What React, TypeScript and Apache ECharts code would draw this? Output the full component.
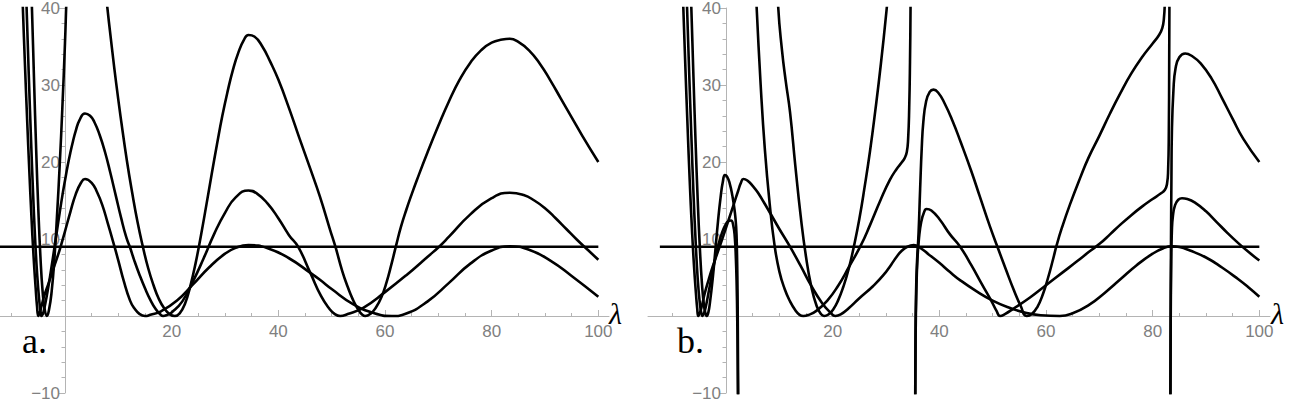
import { useEffect, useRef } from 'react';
import * as echarts from 'echarts';

type Pt = [number, number];

// ---------- tick / label values ----------
const xLabelValues = [20, 40, 60, 80, 100];
const xMinorTickValues = [-10, -5, 5, 10, 15, 25, 30, 35, 45, 50, 55, 65, 70, 75, 85, 90, 95];
const yMinValue = -10;
const yMaxValue = 40;
const yStep = 10;
const thresholdLevel: Pt[] = [[-12.4, 9], [100, 9]];

// ---------- panel a ----------
const aTall: Pt[] = [[-6.5,46],[-6.2,40],[-5.8,30.5],[-5.4,21.5],[-5.0,13.8],[-4.6,7.6],[-4.2,3.2],[-3.8,0.8],[-3.4,0],[-3.0,0.8],[-2.5,3.2],[-2.0,7.3],[-1.5,13],[-1.0,19.5],[-0.5,27],[0,35.5],[0.3,41.5],[1,52],[2.5,62],[4,66],[5.5,62],[6.6,52],[7.2,45],[7.9,40.3],[8.6,36],[9.6,30.2],[10.6,25],[11.6,20.2],[12.6,16],[13.6,12.2],[14.6,9],[15.6,6.2],[16.6,4],[17.6,2.2],[18.6,1],[19.6,0.25],[20.6,0],[21.5,0.35],[22.5,1.6],[23.5,3.9],[24.5,6.9],[25.5,10.5],[26.5,14.4],[27.5,18.4],[28.5,22.3],[29.5,26],[30.5,29.2],[31.5,32],[32.5,34.2],[33.5,35.8],[34.4,36.5],[35.5,36.3],[37,35],[38.5,33],[40,30.7],[42,27],[44,23],[46,19.1],[47.8,15.5],[49.7,11.2],[50.7,9],[52,5.8],[53,3.8],[54,2.1],[55,0.8],[55.7,0.2],[56.3,0],[57.3,0.3],[58.3,1.1],[59.3,2.4],[60.3,4.4],[61.2,6.7],[62.1,9.2],[63,11.6],[64,13.8],[65,15.8],[66,17.7],[68,21.3],[70,24.7],[72,27.9],[74,30.7],[76,32.9],[78,34.5],[80,35.5],[82,35.9],[83.4,36],[85,35.6],[87,34.5],[89,32.8],[91,30.6],[93,28.2],[95,25.8],[97,23.4],[100,20]];
const aMid: Pt[] = [[-7.5,46],[-7.2,40],[-6.8,31.5],[-6.4,23.5],[-6.0,16.2],[-5.6,10],[-5.2,5.2],[-4.8,1.8],[-4.55,0.4],[-4.4,0],[-4.2,0.2],[-4.0,0.6],[-3.5,2.3],[-3.0,4.3],[-2.5,6.5],[-2.0,8.8],[-1.5,11.1],[-1.0,13.4],[-0.5,15.6],[0,17.6],[0.5,19.5],[1,21.2],[1.5,22.7],[2,24],[2.7,25.4],[3.75,26.3],[4.7,26],[5.5,25.2],[6.5,23.5],[7.5,21.3],[8.5,18.6],[9.5,15.7],[10.5,12.8],[11.5,10.2],[12.2,8.9],[13,7.2],[14,5.3],[15,3.6],[16,2.1],[17,0.9],[17.8,0.25],[18.4,0],[19.2,0.15],[20,0.45],[22,1.9],[24,4.5],[26,7.5],[28,10.7],[30,13.4],[32,15.4],[34.4,16.3],[36,15.9],[38,14.6],[40,12.7],[42,10.5],[43.7,9],[46,5.6],[48,2.6],[49.5,1],[50.6,0.25],[51.6,0],[53,0.25],[56,1.1],[60,3.1],[64,5.3],[68,7.7],[70.3,9.1],[72,10.3],[76,13.2],[80,15.3],[83.4,16],[86,15.7],[88,15],[90,14],[92,12.7],[94,11.3],[96,9.9],[98,8.6],[100,7.3]];
const aLow: Pt[] = [[-8.2,46],[-7.9,40],[-7.5,32.5],[-7.1,25.5],[-6.7,19],[-6.3,13],[-5.9,7.8],[-5.5,3.6],[-5.25,1.3],[-5.0,0],[-4.75,0.4],[-4.4,1.3],[-3.9,2.6],[-3.0,4.4],[-2.0,6.5],[-1.0,8.6],[0,11],[1,13.5],[2,15.8],[3,17.3],[3.75,17.8],[5,17.3],[6,16.1],[7,14.4],[8,12.1],[9,9.7],[10,7.2],[11,4.6],[12.2,2],[13,1],[14,0.25],[15,0],[16,0.15],[18,0.6],[21,2],[24,4.1],[27,6.3],[30,8.1],[32,8.85],[34.4,9.2],[38,8.8],[42,7.5],[46,5.6],[47.8,4.7],[50,3.5],[54,1.55],[58,0.35],[61.3,0],[64,0.33],[68,1.9],[72,4.3],[76,6.8],[80,8.5],[83.4,9.05],[87,8.6],[91,7.2],[95,5.2],[100,2.5]];

// ---------- panel b ----------
const bPeak18: Pt[] = [[-6.8,46],[-6.5,40],[-6.1,31],[-5.7,22.5],[-5.3,15],[-4.9,8.8],[-4.5,4.1],[-4.1,1.2],[-3.8,0.25],[-3.6,0],[-3.3,0.5],[-3.0,1.8],[-2.5,4.8],[-2.0,8.5],[-1.5,12.3],[-1.0,15.5],[-0.6,17.4],[-0.2,18.3],[0.2,18.1],[0.7,17.2],[1.2,15.6],[1.6,13.8],[1.9,11.6],[2.05,8.5],[2.15,4],[2.22,-2],[2.3,-12]];
const bPeak12: Pt[] = [[-7.6,46],[-7.3,40],[-6.9,31.5],[-6.5,23.5],[-6.1,16],[-5.7,9.8],[-5.3,4.8],[-4.9,1.6],[-4.6,0.3],[-4.4,0],[-4.1,0.4],[-3.7,1.5],[-3.2,3.3],[-2.6,5.5],[-2.0,7.5],[-1.4,9.3],[-0.8,10.7],[-0.2,11.7],[0.4,12.3],[0.94,12.4],[1.35,11.8],[1.65,10.2],[1.85,7.5],[2.0,4],[2.1,0],[2.18,-5],[2.25,-12]];
const bGentle: Pt[] = [[-8.3,46],[-8.0,40],[-7.6,32],[-7.2,24.5],[-6.8,17.5],[-6.4,11.5],[-6.0,6.5],[-5.6,2.6],[-5.4,1.0],[-5.2,0],[-4.9,0.4],[-4.5,1.4],[-4.0,2.9],[-3.3,4.6],[-2.5,6.4],[-1.5,8.4],[-0.5,10.4],[0.5,12.5],[1.5,14.6],[2.3,16.3],[2.8,17.3],[3.25,17.8],[4.0,17.6],[5,16.9],[6,16],[8,13.7],[10,11.3],[12,9],[14,6.5],[16,3.9],[18,1.7],[19.5,0.5],[20.5,0],[21.5,0.2],[23,1],[25,2.3],[27.6,3.9],[29.5,5.3],[31,6.7],[32,7.7],[33,8.5],[34,9.0],[35.2,9.2],[36.5,8.8],[38,8.0],[40,6.9],[42,5.7],[44,4.6],[47,3.2],[50,2.0],[53,1.1],[56,0.45],[59,0.1],[62.6,0],[65,0.35],[68,1.4],[71,3],[74,4.8],[77,6.6],[80,8.1],[82,8.8],[83.6,9.05],[85,8.95],[87,8.5],[90,7.6],[93,6.3],[96,4.8],[98,3.7],[100,2.5]];
const bKink: Pt[] = [[4.6,62],[5.1,49],[5.75,40],[6.5,30],[7.3,21.5],[8.2,14.5],[9.1,9.2],[10,5.8],[11,3.5],[12,1.9],[13,0.75],[13.8,0.15],[14.5,0],[15.5,0.15],[17,0.7],[19,2],[21,3.9],[23,6.3],[25.3,9.2],[27,11.8],[29,15.1],[30.75,17.7],[32,19.1],[32.9,19.9],[33.5,20.5],[33.9,21.3],[34.15,23],[34.35,27],[34.5,33],[34.6,40],[34.7,50]];
const bSteep: Pt[] = [[9.2,50],[9.8,40],[10.5,34.5],[11.2,30.5],[12,26.5],[13,19.5],[14,13],[15,7.7],[16,3.8],[17,1.3],[17.8,0.25],[18.4,0],[19.2,0.2],[20.1,0.85],[21,2],[22,3.8],[23,6.1],[24,9.1],[25,12.6],[26,16.8],[27,21.4],[28,26.7],[29,32.5],[30.1,39.7],[30.7,44]];
const bRightTall: Pt[] = [[35.45,-15],[35.52,-4],[35.62,2.5],[35.8,6.8],[36.1,10.7],[36.4,16.5],[36.7,21.8],[37,25.2],[37.5,27.8],[38.2,29.1],[38.9,29.4],[39.8,29],[41,27.6],[42.5,25.3],[44,22.6],[46,18.8],[47.6,15.5],[49.5,11.6],[51.1,8.6],[52.5,6],[54,3.3],[55.2,1.4],[56.4,0],[57.4,0.3],[58.4,1.2],[59.4,2.8],[60.4,5],[61.3,7.3],[62,9.2],[63,11.5],[64.5,14.5],[66.5,18.1],[68,20.6],[70,23.4],[72,26.3],[74,29],[76,31.5],[78,33.6],[80,35.4],[81.2,36.5],[81.8,37.4],[82.1,38.6],[82.28,40.8],[82.4,46]];
const bRightMid: Pt[] = [[35.45,-15],[35.55,-3],[35.7,3.5],[35.9,7.4],[36.2,10.2],[36.6,12.2],[37.1,13.4],[37.6,13.9],[38.5,13.7],[40,12.6],[42,10.6],[43.9,9],[46,6.6],[48,4.1],[49.8,1.9],[50.7,0.7],[51.4,0],[52.3,0.25],[54,1.0],[57,2.4],[60,4],[63,5.6],[66,7.2],[68,8.3],[70.1,9.4],[72,10.6],[74,11.9],[76,13.1],[78,14.2],[80,15.2],[81.5,15.9],[82.3,16.4],[82.7,17.2],[82.9,19],[83.03,24],[83.1,33],[83.15,42]];
const bFarTall: Pt[] = [[83.3,-15],[83.36,-2],[83.44,10],[83.52,18],[83.6,23.7],[83.9,29.4],[84.3,32.2],[85,33.6],[86.1,34.1],[87.5,33.7],[89,32.8],[91,30.9],[93,28.3],[95,25.6],[97,23],[100,20]];
const bFarMid: Pt[] = [[83.3,-15],[83.38,-1],[83.48,7],[83.6,11],[83.8,13],[84.2,14.4],[84.8,15.1],[85.5,15.3],[86.5,15.2],[88,14.7],[90,13.6],[92,12.2],[94,10.8],[96,9.5],[98,8.3],[100,7.2]];

const panelCurves = [
  [aTall, aMid, aLow],
  [bPeak18, bPeak12, bGentle, bKink, bSteep, bRightTall, bRightMid, bFarTall, bFarMid],
];

// ---------- layout ----------
const PX_PER_UNIT = 16 / 3;
const ORIGINS = [65, 726];
const X_MINS = [-65 / PX_PER_UNIT, -78 / PX_PER_UNIT];
const X_MAX = 102;
const GRID_TOP = 8;
const GRID_HEIGHT = 385;
const ZERO_OFFSET = 308; // pixel distance from grid top to the value 0
const AXIS_GRAY = '#b4b4b4';
const LABEL_GRAY = '#808080';
const TICK_FONT = 17;

function App() {
  const ref = useRef<HTMLDivElement | null>(null);

  useEffect(() => {
    document.body.style.margin = '0';
    if (!ref.current) return;
    const chart = echarts.init(ref.current, undefined, { renderer: 'svg' });

    const grids: any[] = [];
    const xAxes: any[] = [];
    const yAxes: any[] = [];
    const series: any[] = [];
    const gridBase = { containLabel: false, outerBoundsMode: 'none' };
    const hidden = { show: false };

    [0, 1].forEach((p) => {
      const xmin = X_MINS[p];
      const left = ORIGINS[p] + xmin * PX_PER_UNIT;
      const width = (X_MAX - xmin) * PX_PER_UNIT;
      const b = p * 4;
      // 0: data grid, 1: horizontal axis grid (bottom edge at value 0), 2: major tick grid, 3: vertical axis grid
      grids.push({ ...gridBase, left, top: GRID_TOP, width, height: GRID_HEIGHT });
      grids.push({ ...gridBase, left, top: GRID_TOP, width, height: ZERO_OFFSET });
      grids.push({ ...gridBase, left, top: GRID_TOP + ZERO_OFFSET, width, height: 40 });
      grids.push({ ...gridBase, left: ORIGINS[p], top: GRID_TOP, width: 100, height: GRID_HEIGHT });

      xAxes.push({ type: 'value', gridIndex: b, min: xmin, max: X_MAX, ...hidden });
      xAxes.push({
        type: 'value', gridIndex: b + 1, min: xmin, max: X_MAX, position: 'bottom',
        axisLine: { show: true, onZero: false, lineStyle: { color: AXIS_GRAY, width: 1 } },
        axisTick: { show: true, inside: true, length: 3, customValues: xMinorTickValues, lineStyle: { color: AXIS_GRAY } },
        axisLabel: { show: true, customValues: xLabelValues, color: LABEL_GRAY, fontSize: TICK_FONT, fontFamily: 'Liberation Sans', margin: 7 },
        splitLine: { show: false },
      });
      xAxes.push({
        type: 'value', gridIndex: b + 2, min: xmin, max: X_MAX, position: 'top',
        axisLine: { show: false, onZero: false },
        axisTick: { show: true, length: 6, customValues: xLabelValues, lineStyle: { color: AXIS_GRAY } },
        axisLabel: { show: false },
        splitLine: { show: false },
      });
      xAxes.push({ type: 'value', gridIndex: b + 3, min: 0, max: 1, ...hidden });

      yAxes.push({ type: 'value', gridIndex: b, min: yMinValue, max: yMaxValue, ...hidden });
      yAxes.push({ type: 'value', gridIndex: b + 1, min: 0, max: 1, ...hidden });
      yAxes.push({ type: 'value', gridIndex: b + 2, min: 0, max: 1, ...hidden });
      yAxes.push({
        type: 'value', gridIndex: b + 3, min: yMinValue, max: yMaxValue, interval: yStep, position: 'left',
        axisLine: { show: true, onZero: false, lineStyle: { color: AXIS_GRAY, width: 1 } },
        axisTick: { show: true, length: 6, lineStyle: { color: AXIS_GRAY } },
        minorTick: { show: true, splitNumber: 5, length: 3.5, lineStyle: { color: AXIS_GRAY } },
        axisLabel: {
          color: LABEL_GRAY, fontSize: TICK_FONT, fontFamily: 'Liberation Sans', margin: 5,
          formatter: (v: number) => (v === 0 ? '' : v < 0 ? '\u2212' + Math.abs(v) : String(v)),
        },
        splitLine: { show: false },
      });

      const mk = (data: Pt[], smooth: number | boolean) => ({
        type: 'line', data, xAxisIndex: b, yAxisIndex: b, symbol: 'none', showSymbol: false,
        smooth, clip: true, silent: true, z: 3,
        lineStyle: { color: '#000', width: 2.6 },
      });
      series.push(mk(thresholdLevel, false));
      panelCurves[p].forEach((c) => series.push(mk(c, 0.5)));
    });

    const labelFont = { fontFamily: 'Liberation Serif', fill: '#000' };
    chart.setOption({
      animation: false,
      backgroundColor: '#fff',
      grid: grids,
      xAxis: xAxes,
      yAxis: yAxes,
      series,
      graphic: [
        { type: 'text', x: 609, y: 313, z: 10, style: { ...labelFont, text: 'λ', fontSize: 30, fontStyle: 'italic', verticalAlign: 'middle', align: 'left' } },
        { type: 'text', x: 1271, y: 313, z: 10, style: { ...labelFont, text: 'λ', fontSize: 30, fontStyle: 'italic', verticalAlign: 'middle', align: 'left' } },
        { type: 'text', x: 22, y: 341, z: 10, style: { ...labelFont, text: 'a.', fontSize: 36, verticalAlign: 'middle', align: 'left' } },
        { type: 'text', x: 677, y: 341, z: 10, style: { ...labelFont, text: 'b.', fontSize: 36, verticalAlign: 'middle', align: 'left' } },
      ],
    });

    return () => chart.dispose();
  }, []);

  return <div ref={ref} style={{ width: 1290, height: 401 }} />;
}

export default App;
